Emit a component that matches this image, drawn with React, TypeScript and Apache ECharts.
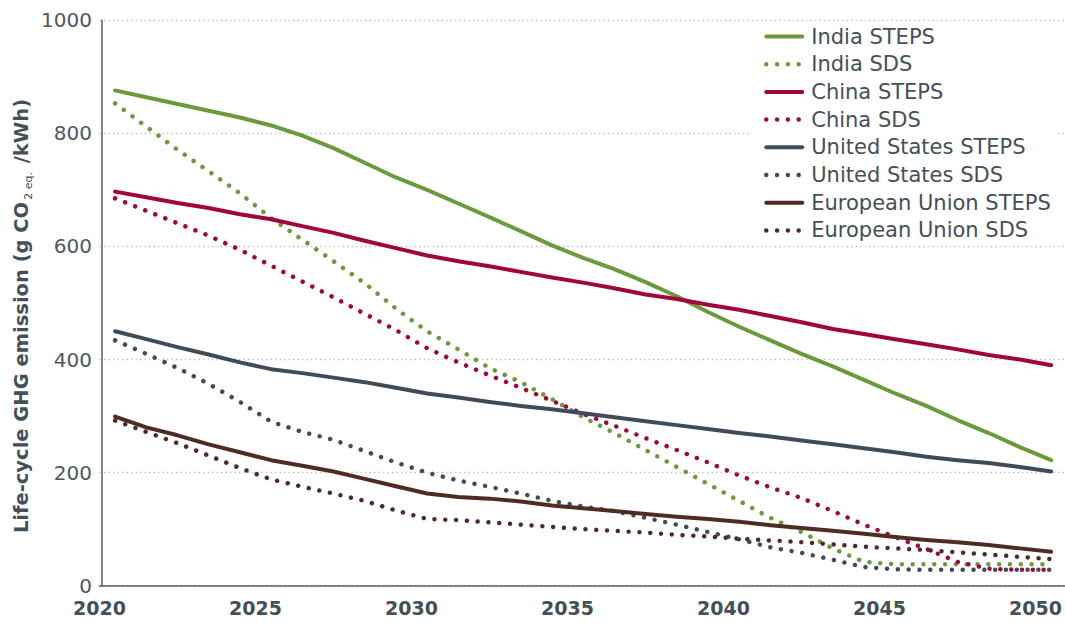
import React, { useEffect, useRef } from "react";
import * as echarts from "echarts";

const years = [
  2020, 2021, 2022, 2023, 2024, 2025, 2026, 2027, 2028, 2029, 2030,
  2031, 2032, 2033, 2034, 2035, 2036, 2037, 2038, 2039, 2040,
  2041, 2042, 2043, 2044, 2045, 2046, 2047, 2048, 2049, 2050,
];

const indiaSTEPS = [876, 864, 852, 840, 828, 814, 796, 774, 748, 722, 700, 676, 652, 627, 602, 580, 560, 537, 512, 484, 458, 434, 410, 388, 364, 340, 318, 293, 270, 245, 222];
const indiaSDS = [853, 812, 771, 733, 694, 650, 612, 574, 535, 490, 450, 418, 385, 360, 330, 298, 270, 240, 210, 180, 150, 120, 95, 66, 42, 38, 38, 38, 38, 38, 38];
const chinaSTEPS = [697, 687, 677, 668, 657, 648, 636, 624, 610, 597, 584, 574, 565, 555, 545, 536, 526, 515, 507, 497, 488, 477, 466, 454, 445, 436, 427, 418, 408, 400, 390];
const chinaSDS = [685, 663, 641, 619, 594, 566, 538, 510, 481, 452, 420, 395, 372, 350, 327, 304, 283, 261, 240, 218, 195, 174, 155, 132, 108, 86, 65, 42, 30, 28, 28];
const usSTEPS = [450, 436, 422, 409, 395, 383, 376, 368, 360, 350, 340, 333, 325, 318, 312, 305, 298, 291, 284, 277, 270, 264, 257, 250, 243, 236, 228, 222, 217, 210, 202];
const usSDS = [434, 410, 385, 357, 325, 290, 272, 258, 238, 218, 200, 186, 175, 163, 150, 140, 132, 120, 108, 95, 82, 68, 58, 46, 33, 29, 28, 28, 28, 28, 28];
const euSTEPS = [299, 280, 266, 250, 236, 222, 212, 202, 189, 176, 163, 157, 154, 149, 142, 137, 132, 127, 122, 118, 113, 107, 102, 97, 92, 86, 81, 77, 72, 66, 60];
const euSDS = [292, 272, 252, 230, 208, 188, 175, 163, 150, 133, 118, 116, 112, 108, 104, 100, 97, 94, 90, 87, 83, 80, 77, 73, 69, 66, 63, 59, 55, 51, 47];

const xTickLabels = [2020, 2025, 2030, 2035, 2040, 2045, 2050];
const yTicks = [0, 200, 400, 600, 800, 1000];

const GREEN = "#6b9a3b";
const RED = "#a0053d";
const SLATE = "#3f4c58";
const BROWN = "#4e2c23";
const TEXT = "#444f5a";

const seriesDefs = [
  { name: "India STEPS", data: indiaSTEPS, color: GREEN, dotted: false },
  { name: "India SDS", data: indiaSDS, color: GREEN, dotted: true },
  { name: "China STEPS", data: chinaSTEPS, color: RED, dotted: false },
  { name: "China SDS", data: chinaSDS, color: RED, dotted: true },
  { name: "United States STEPS", data: usSTEPS, color: SLATE, dotted: false },
  { name: "United States SDS", data: usSDS, color: SLATE, dotted: true },
  { name: "European Union STEPS", data: euSTEPS, color: BROWN, dotted: false },
  { name: "European Union SDS", data: euSDS, color: BROWN, dotted: true },
];

const FONT = "'DejaVu Sans', sans-serif";

const solidStyle = (c: string) => ({ color: c, width: 4, type: "solid", cap: "round", join: "round" });
const dotStyle = (c: string) => ({ color: c, width: 4.5, type: [0.01, 10.8], cap: "round" });

export default function App() {
  const ref = useRef<HTMLDivElement>(null);
  useEffect(() => {
    if (!ref.current) return;
    const chart = echarts.init(ref.current, undefined, { renderer: "svg" });
    chart.setOption({
      animation: false,
      backgroundColor: "#ffffff",
      grid: { left: 99.5, right: 0, top: 20.3, bottom: 37.3, containLabel: false },
      legend: {
        orient: "vertical",
        left: 750,
        top: 21,
        padding: [5, 6, 5, 14],
        backgroundColor: "#ffffff",
        itemWidth: 36,
        itemHeight: 14,
        itemGap: 6.7,
        itemStyle: { opacity: 0, borderWidth: 0 },
        textStyle: {
          fontFamily: FONT,
          fontSize: 21,
          color: TEXT,
          lineHeight: 21,
          padding: [0, 0, 0, 4],
        },
        data: seriesDefs.map((s) => ({
          name: s.name,
          lineStyle: s.dotted ? dotStyle(s.color) : solidStyle(s.color),
        })),
      },
      graphic: [
        {
          type: "text",
          x: 21,
          y: 316,
          rotation: Math.PI / 2,
          style: {
            text: "{a|Life-cycle GHG emission (g CO}{s|2 eq.}{a| /kWh)}",
            align: "center",
            verticalAlign: "middle",
            rich: {
              a: { fontFamily: FONT, fontWeight: "bold", fontSize: 19.5, fill: TEXT, lineHeight: 26, verticalAlign: "middle" },
              s: { fontFamily: FONT, fontSize: 11, fill: TEXT, lineHeight: 26, verticalAlign: "bottom", padding: [0, 2, 0, 2] },
            },
          },
        },
      ],
      xAxis: {
        type: "value",
        min: 2019.5,
        max: 2050.43,
        axisLine: { show: true, onZero: false, lineStyle: { color: "#555e66", width: 1.5 } },
        axisTick: { show: false },
        splitLine: { show: false },
        axisLabel: {
          customValues: xTickLabels.map((y) => y - 0.5),
          formatter: (v: number) => String(Math.round(v + 0.5)),
          fontFamily: FONT,
          fontWeight: "bold",
          fontSize: 19,
          color: TEXT,
          margin: 13,
        },
      },
      yAxis: {
        type: "value",
        min: 0,
        max: 1000,
        interval: 200,
        offset: -2.5,
        axisLine: { show: true, lineStyle: { color: "#555e66", width: 1.5 } },
        axisTick: { show: false },
        axisLabel: {
          fontFamily: FONT,
          fontSize: 20,
          color: "#4d5762",
          margin: 10,
          customValues: yTicks,
          formatter: (v: number) => String(v),
        },
        splitLine: {
          show: true,
          lineStyle: { color: "#c4c4c4", width: 1.3, type: [1.5, 3] },
        },
      },
      series: seriesDefs.map((s) => ({
        name: s.name,
        type: "line",
        data: years.map((y, i) => [y, s.data[i]]),
        showSymbol: false,
        symbol: "none",
        itemStyle: { color: s.color },
        lineStyle: s.dotted ? dotStyle(s.color) : solidStyle(s.color),
      })),
    });
    return () => chart.dispose();
  }, []);
  return (
    <div
      ref={ref}
      style={{ position: "fixed", left: 0, top: 0, width: 1065, height: 623, background: "#fff" }}
    />
  );
}
